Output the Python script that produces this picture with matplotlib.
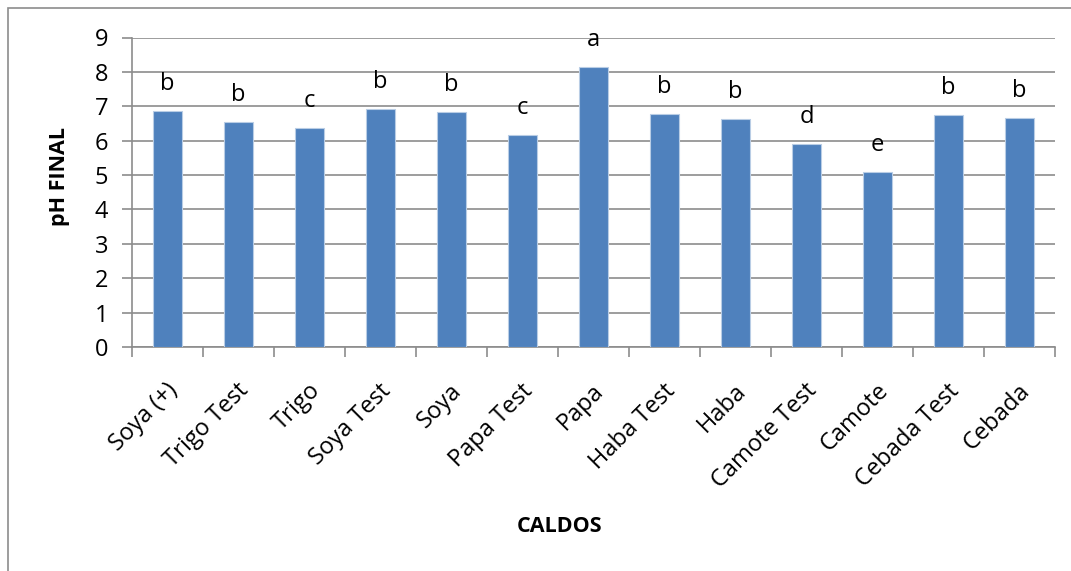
import matplotlib
matplotlib.use("Agg")
import matplotlib.pyplot as plt
from matplotlib.patches import Rectangle

categories = ["Soya (+)", "Trigo Test", "Trigo", "Soya Test", "Soya", "Papa Test",
              "Papa", "Haba Test", "Haba", "Camote Test", "Camote", "Cebada Test", "Cebada"]
ph_final = [6.86, 6.53, 6.37, 6.91, 6.82, 6.16, 8.13, 6.78, 6.63, 5.89, 5.08, 6.74, 6.67]
groups = ["b", "b", "c", "b", "b", "c", "a", "b", "b", "d", "e", "b", "b"]
y_ticks = list(range(0, 10))

plt.rcParams["font.family"] = ["Open Sans", "DejaVu Sans"]

W, H = 1071, 571
fig = plt.figure(figsize=(W / 100, H / 100), dpi=100)

# chart-area frame
fig.patches.append(Rectangle((8 / W, -0.1), 1.2, 1 - 8 / H + 0.1, transform=fig.transFigure,
                             fill=False, edgecolor="#8c8c8c", linewidth=1.2))

ax = fig.add_axes([132 / W, 1 - 347 / H, (1055 - 132) / W, (347 - 37.5) / H])
x = list(range(len(categories)))
ax.bar(x, ph_final, width=0.4, color="#4F81BD", edgecolor="#b9cde5", linewidth=0.8, zorder=3)

FS = 17
for xi, v, g in zip(x, ph_final, groups):
    ax.annotate(g, (xi, v), xytext=(0, 19.5), textcoords="offset points",
                ha="center", va="center", fontsize=FS, color="black")

ax.set_xlim(-0.5, len(categories) - 0.5)
ax.set_ylim(0, 9)
ax.set_yticks(y_ticks)
ax.set_yticklabels([str(t) for t in y_ticks], fontsize=FS)
ax.yaxis.grid(True, color="#8c8c8c", linewidth=1.2, zorder=0)
ax.set_axisbelow(True)

ax.set_xticks([i - 0.5 for i in range(len(categories) + 1)])
ax.set_xticklabels([])
ax.tick_params(axis="both", direction="out", length=7, width=1.2, color="#8c8c8c")
ax.tick_params(axis="y", pad=10)

for side in ["top", "right"]:
    ax.spines[side].set_visible(False)
for side in ["left", "bottom"]:
    ax.spines[side].set_color("#8c8c8c")
    ax.spines[side].set_linewidth(1.2)

# rotated category names
for xi, name in zip(x, categories):
    ax.annotate(name, (xi, 0), xytext=(5, -29), textcoords="offset points",
                rotation=45, rotation_mode="anchor", ha="right", va="center",
                fontsize=FS, color="black", annotation_clip=False)

fig.text(60 / W, 1 - 176 / H, "pH FINAL", rotation=90, ha="center", va="center",
         fontsize=15.5, fontweight="bold")
fig.text(560 / W, 1 - 527 / H, "CALDOS", ha="center", va="center",
         fontsize=15.5, fontweight="bold")

fig.savefig("out.png", dpi=100, facecolor="white")
